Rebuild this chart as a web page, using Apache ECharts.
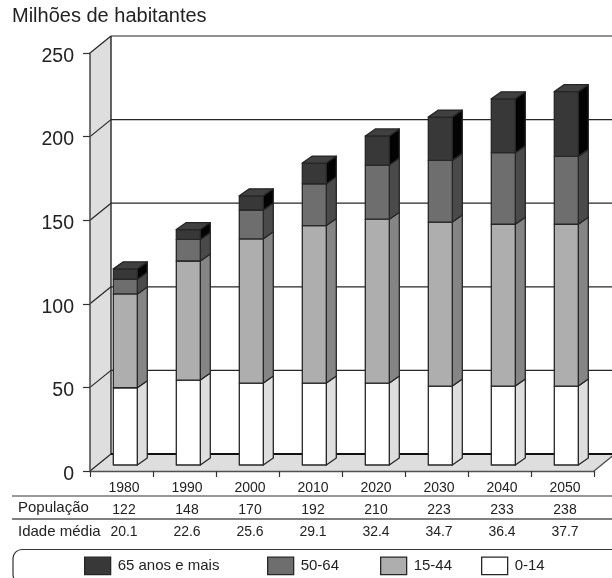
<!DOCTYPE html>
<html><head><meta charset="utf-8">
<style>html,body{margin:0;padding:0;background:#fff}#c{width:612px;height:578px}</style>
<script src="https://cdn.jsdelivr.net/npm/echarts@6/dist/echarts.min.js"></script>
</head><body><div id="c"></div>
<script>
const years = ['1980','1990','2000','2010','2020','2030','2040','2050'];
const population = ['122','148','170','192','210','223','233','238'];
const medianAge = ['20.1','22.6','25.6','29.1','32.4','34.7','36.4','37.7'];
const age0_14 = [46.2,50.8,49,49,49,47.2,47.2,47.2];
const age15_44 = [56.1,71.2,86.3,94.2,98,98.1,96.8,96.8];
const age50_64 = [8.8,12.9,17.2,25,32.4,36.9,42.8,40.6];
const age65 = [6.2,5.9,8.5,12.4,17.4,25.9,32.2,38.7];
const yTicks = [0,50,100,150,200,250];

const FONT = '"Liberation Sans", Arial, sans-serif';
const INK = '#222222', LINE = '#262626', AXIS = '#505050', WALL = '#dedede';
const DX = 21, DY = -17;           // chart depth
const BAR = {w:24, shift:3.8, lift:6, dx:10, dy:-7};

function poly(points, fill, lw){
  return {type:'polygon', shape:{points}, style:{fill, stroke:LINE, lineWidth:lw===undefined?1.3:lw, lineJoin:'round'}};
}
function line(x1,y1,x2,y2,stroke,lw){
  return {type:'line', shape:{x1,y1,x2,y2}, style:{stroke, lineWidth:lw}};
}
function barSeries(name, values, below, face, side, top){
  const data = values.map((v,i)=>{
    const lo = below.reduce((s,a)=>s+a[i],0);
    return [i, lo, lo+v];
  });
  return {
    name, type:'custom', coordinateSystem:'cartesian2d', silent:true, z:4, clip:false,
    itemStyle:{color:face, borderColor:LINE, borderWidth:1.3},
    encode:{x:0,y:[1,2]}, data,
    renderItem(params, api){
      const c = api.coord([api.value(0), api.value(1)]);
      const t = api.coord([api.value(0), api.value(2)]);
      const x0 = c[0] + BAR.shift - BAR.w/2, x1 = x0 + BAR.w;
      const yb = c[1]-BAR.lift, yt = t[1]-BAR.lift;
      const kids = [
        poly([[x1,yb],[x1+BAR.dx,yb+BAR.dy],[x1+BAR.dx,yt+BAR.dy],[x1,yt]], side),
        poly([[x0,yb],[x1,yb],[x1,yt],[x0,yt]], face)
      ];
      if(top) kids.push(poly([[x0,yt],[x0+BAR.dx,yt+BAR.dy],[x1+BAR.dx,yt+BAR.dy],[x1,yt]], top));
      return {type:'group', children:kids};
    }
  };
}
const wallSeries = {
  type:'custom', coordinateSystem:'cartesian2d', silent:true, z:1, clip:false,
  data:[[0,0]], encode:{x:0,y:1},
  renderItem(params, api){
    const g = params.coordSys;
    const xl=g.x, xr=g.x+g.width, yb=g.y+g.height, yt=g.y;
    return {type:'group', children:[
      {type:'polygon', shape:{points:[[xl,yb],[xl+DX,yb+DY],[xl+DX,yt+DY],[xl,yt]]}, style:{fill:WALL}},
      {type:'polygon', shape:{points:[[xl,yb],[xl+DX,yb+DY],[xr+DX,yb+DY],[xr,yb]]}, style:{fill:WALL}},
      line(xl+DX,yb+DY,xl+DX,yt+DY,LINE,1.4),
      line(xr,yb,xr+DX,yb+DY,AXIS,1.3)
    ]};
  }
};
const gridSeries = {
  type:'custom', coordinateSystem:'cartesian2d', silent:true, z:2, clip:false,
  data:yTicks.map(v=>[0,v]), encode:{x:0,y:1},
  renderItem(params, api){
    const g = params.coordSys;
    const y = api.coord([0, api.value(1)])[1];
    return {type:'group', children:[
      line(g.x,y,g.x+DX,y+DY,LINE,1.2),
      line(g.x+DX,y+DY,g.x+g.width+DX,y+DY,api.value(1)===0?'#111111':LINE,api.value(1)===0?1.9:1.2)
    ]};
  }
};
const series = [
  wallSeries, gridSeries,
  barSeries('0-14', age0_14, [], '#ffffff', '#dedede'),
  barSeries('15-44', age15_44, [age0_14], '#aeaeae', '#858585'),
  barSeries('50-64', age50_64, [age0_14,age15_44], '#6e6e6e', '#4a4a4a'),
  barSeries('65 anos e mais', age65, [age0_14,age15_44,age50_64], '#383838', '#030303', '#404040')
];
function legendAt(name, color, left){
  return {
    show:true, left, top:556.5, orient:'horizontal', padding:0, itemWidth:26, itemHeight:17.5, icon:'rect',
    selectedMode:false,
    data:[{name, icon:'rect', itemStyle:{color, borderColor:LINE, borderWidth:1.3}}],
    textStyle:{fontFamily:FONT, fontSize:15, color:INK, padding:[2,0,0,2]}
  };
}
function rowAxis(data, offset){
  return {type:'category', data, position:'bottom', offset, gridIndex:0,
    axisLine:{show:false}, axisTick:{show:false}, splitLine:{show:false},
    axisLabel:{interval:0, margin:10, padding:[0,0,0,5], fontFamily:FONT, fontSize:14, color:INK}};
}
const chart = echarts.init(document.getElementById('c'), null, {renderer:'canvas'});
chart.setOption({
  animation:false, backgroundColor:'#ffffff',
  textStyle:{fontFamily:FONT},
  grid:{left:90, top:53, width:504, height:418, containLabel:false},
  xAxis:[
    {type:'category', data:years, z:6,
      axisLine:{show:true, lineStyle:{color:AXIS, width:1.3}},
      axisTick:{show:true, length:6, alignWithLabel:false, lineStyle:{color:'#333333', width:1.2}},
      splitLine:{show:false},
      axisLabel:{interval:0, margin:10, padding:[0,0,0,5], fontFamily:FONT, fontSize:14, color:INK}},
    rowAxis(population, 22),
    rowAxis(medianAge, 44)
  ],
  yAxis:{type:'value', min:0, max:250, interval:50, z:6,
    axisLine:{show:true, lineStyle:{color:AXIS, width:1.6}},
    axisTick:{show:true, length:7, lineStyle:{color:'#333333', width:1.2}},
    splitLine:{show:false},
    axisLabel:{margin:16, verticalAlign:'top', lineHeight:7, fontFamily:FONT, fontSize:19.5, color:INK}},
  legend:[
    legendAt('65 anos e mais','#383838',84),
    legendAt('50-64','#6e6e6e',267),
    legendAt('15-44','#aeaeae',380),
    legendAt('0-14','#ffffff',481)
  ],
  graphic:[
    {type:'text', left:12, top:6, silent:true, style:{text:'Milhões de habitantes', font:'20px '+FONT, fill:INK}},
    {type:'text', left:18, top:500, silent:true, style:{text:'População', font:'15px '+FONT, fill:INK}},
    {type:'text', left:18, top:524, silent:true, style:{text:'Idade média', font:'15px '+FONT, fill:INK}},
    {type:'line', silent:true, shape:{x1:12,y1:496,x2:612,y2:496}, style:{stroke:'#333333',lineWidth:1.2}},
    {type:'line', silent:true, shape:{x1:12,y1:519,x2:612,y2:519}, style:{stroke:'#555555',lineWidth:1.3}},
    {type:'rect', silent:true, shape:{x:13,y:549.5,width:640,height:34,r:9}, style:{fill:'none',stroke:'#333333',lineWidth:1.2}}
  ],
  series
});
</script></body></html>
